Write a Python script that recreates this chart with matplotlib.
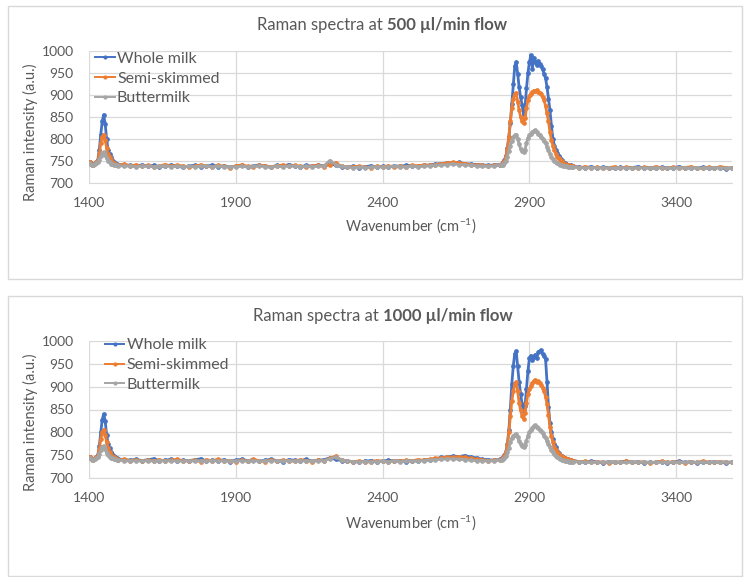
#!/usr/bin/env python3
# -*- coding: UTF-8 -*-

"""
Raman spectra of milk samples at two flow rates
"""

import numpy as np
import matplotlib
matplotlib.use('agg')
from matplotlib import pyplot as plt
from matplotlib.patches import Rectangle

# 波数采样点 (cm-1)
wavenumber = np.r_[1400:1501:5, 1520:2801:20, 2805:3051:5, 3070:3591:20]

series_names = ['Whole milk', 'Semi-skimmed', 'Buttermilk']
series_colors = ['#4472C4', '#ED7D31', '#A5A5A5']
flow_rates = ['500', '1000']

x_ticks = [1400, 1900, 2400, 2900, 3400]
y_ticks = [700, 750, 800, 850, 900, 950, 1000]

# ---- 500 ul/min ----
whole_500 = [
    746, 748, 744, 742, 746, 748, 752, 775, 810, 840, 855, 835, 800, 775, 765, 758, 752, 748, 746, 743, 742,
    741, 740, 739, 741, 738, 740, 737, 739, 741, 738, 736, 739, 740, 737, 738, 741, 737, 739, 736, 738,
    740, 737, 739, 741, 738, 736, 740, 738, 742, 739, 737, 740, 738, 741, 739, 745, 740, 737, 736, 738,
    735, 737, 739, 736, 738, 737, 739, 738, 740, 739, 738, 740, 741, 743, 744, 746, 745, 747, 744, 743,
    742, 741, 740, 741, 742,
    744, 747, 752, 762, 780, 805, 836, 880, 925, 965, 975, 948, 918, 895, 878, 856, 872, 915, 950, 975,
    990, 960, 985, 975, 968, 978, 970, 965, 958, 948, 938, 918, 892, 865, 830, 800, 785, 775, 768, 762,
    757, 752, 748, 746, 744, 742, 741, 740, 739, 738,
    736, 735, 737, 734, 736, 735, 733, 736, 734, 735, 737, 734, 735, 733, 736, 734, 735, 737, 733, 735,
    734, 736, 733, 735, 734, 732, 735,
]
semi_500 = [
    748, 747, 742, 740, 745, 747, 750, 765, 790, 805, 810, 798, 780, 765, 758, 752, 748, 745, 743, 741, 740,
    743, 739, 741, 738, 740, 737, 739, 742, 738, 740, 739, 736, 738, 741, 739, 737, 740, 738, 735, 739,
    741, 738, 736, 740, 739, 737, 739, 741, 738, 740, 738, 736, 739, 740, 737, 742, 746, 738, 736, 737,
    738, 736, 735, 738, 737, 739, 736, 738, 737, 740, 739, 741, 740, 742, 744, 745, 747, 746, 744, 742,
    741, 740, 739, 740, 741,
    743, 746, 750, 760, 778, 805, 840, 870, 892, 902, 905, 885, 865, 850, 840, 836, 848, 870, 888, 898,
    902, 906, 910, 908, 911, 907, 905, 902, 896, 888, 875, 858, 840, 815, 798, 785, 775, 767, 760, 756,
    752, 749, 746, 744, 742, 741, 740, 739, 739, 738,
    735, 737, 734, 736, 733, 735, 737, 734, 736, 735, 733, 736, 734, 737, 735, 733, 736, 734, 735, 737,
    734, 733, 736, 734, 737, 735, 734,
]
butter_500 = [
    745, 744, 740, 741, 743, 745, 747, 752, 762, 768, 770, 764, 756, 750, 747, 744, 743, 742, 741, 740, 739,
    739, 738, 737, 739, 738, 737, 738, 739, 737, 738, 737, 738, 737, 738, 739, 737, 738, 737, 736, 737,
    738, 737, 738, 739, 737, 736, 738, 737, 739, 738, 737, 738, 737, 738, 739, 751, 742, 738, 736, 735,
    736, 735, 736, 737, 736, 737, 738, 736, 737, 738, 737, 738, 739, 740, 741, 742, 743, 742, 741, 740,
    739, 738, 738, 739, 740,
    740, 742, 745, 750, 760, 772, 785, 796, 804, 808, 810, 800, 788, 778, 772, 770, 776, 790, 802, 808,
    812, 815, 818, 820, 815, 812, 808, 805, 800, 796, 790, 782, 774, 766, 760, 755, 750, 747, 745, 743,
    741, 740, 739, 738, 738, 737, 737, 736, 737, 736,
    735, 734, 735, 734, 735, 734, 734, 735, 734, 734, 735, 734, 734, 735, 734, 733, 734, 735, 734, 734,
    735, 734, 734, 735, 734, 734, 734,
]

# ---- 1000 ul/min ----
whole_1000 = [
    745, 747, 742, 741, 744, 747, 750, 770, 800, 828, 840, 825, 795, 775, 765, 758, 752, 748, 745, 743, 742,
    740, 739, 741, 738, 740, 742, 738, 739, 741, 737, 739, 738, 740, 742, 737, 739, 738, 740, 736, 739,
    741, 738, 740, 737, 739, 741, 738, 736, 740, 739, 738, 741, 737, 739, 740, 744, 741, 738, 737, 736,
    735, 737, 738, 736, 737, 739, 737, 738, 736, 738, 737, 739, 740, 742, 745, 746, 748, 747, 749, 746,
    744, 741, 740, 739, 741,
    743, 746, 750, 758, 775, 805, 850, 905, 945, 972, 978, 945, 910, 885, 862, 846, 858, 895, 935, 962,
    968, 958, 965, 970, 962, 975, 978, 980, 972, 968, 960, 910, 855, 820, 800, 785, 775, 767, 760, 755,
    751, 748, 746, 744, 742, 741, 740, 739, 738, 738,
    736, 734, 737, 735, 733, 736, 734, 735, 737, 734, 736, 733, 735, 734, 736, 733, 735, 737, 734, 736,
    733, 735, 734, 736, 734, 733, 735,
]
semi_1000 = [
    747, 746, 741, 740, 744, 746, 749, 762, 785, 800, 806, 795, 778, 765, 757, 751, 747, 745, 743, 741, 740,
    741, 738, 740, 737, 739, 738, 740, 737, 739, 741, 738, 737, 739, 736, 740, 738, 741, 737, 738, 736,
    739, 737, 741, 738, 736, 740, 737, 739, 738, 737, 740, 738, 736, 739, 738, 743, 748, 739, 737, 736,
    737, 735, 736, 738, 737, 736, 738, 737, 739, 738, 740, 739, 741, 743, 744, 746, 745, 747, 745, 743,
    741, 740, 738, 739, 740,
    742, 745, 749, 756, 772, 800, 835, 868, 890, 905, 910, 890, 865, 848, 836, 830, 842, 865, 885, 895,
    902, 908, 912, 915, 910, 912, 908, 904, 898, 890, 878, 862, 838, 812, 792, 778, 768, 762, 757, 753,
    750, 747, 745, 743, 742, 741, 740, 739, 738, 738,
    735, 737, 734, 736, 735, 733, 736, 734, 737, 735, 734, 736, 733, 735, 737, 734, 736, 735, 733, 736,
    734, 737, 735, 734, 736, 735, 734,
]
butter_1000 = [
    744, 743, 739, 740, 742, 744, 746, 752, 762, 768, 770, 763, 755, 750, 747, 744, 743, 742, 741, 740, 739,
    738, 737, 738, 737, 738, 737, 738, 737, 738, 737, 737, 738, 737, 738, 737, 738, 737, 738, 737, 737,
    738, 737, 738, 737, 738, 737, 738, 737, 738, 737, 738, 737, 738, 737, 738, 742, 746, 739, 737, 736,
    735, 736, 735, 736, 737, 736, 737, 736, 737, 738, 737, 738, 739, 740, 741, 742, 742, 741, 740, 739,
    738, 738, 737, 738, 739,
    739, 741, 743, 748, 756, 766, 778, 787, 792, 795, 796, 789, 780, 774, 770, 768, 772, 782, 793, 800,
    806, 810, 814, 815, 812, 810, 806, 802, 798, 793, 788, 782, 775, 768, 762, 756, 752, 748, 745, 743,
    741, 740, 739, 738, 737, 737, 736, 736, 736, 736,
    735, 735, 734, 735, 734, 735, 735, 734, 734, 735, 734, 735, 734, 734, 735, 734, 735, 734, 734, 735,
    734, 735, 734, 735, 734, 735, 735,
]

TEXT_COLOR = '#595959'
GRID_COLOR = '#d9d9d9'
FIG_W, FIG_H = 744, 577

plt.rcParams['font.family'] = ['Lato', 'DejaVu Sans']
plt.rcParams['mathtext.default'] = 'regular'


def px_x(x):
    """像素横坐标 -> 图形坐标"""
    return x / FIG_W


def px_y(y):
    """像素纵坐标(自上而下) -> 图形坐标"""
    return 1 - y / FIG_H


def draw_title(fig, xc, yc, normal, bold):
    """绘制部分加粗的标题, 整体居中"""
    _t1 = fig.text(0, px_y(yc), normal, fontsize=12, color=TEXT_COLOR, va='center')
    _t2 = fig.text(0, px_y(yc), bold, fontsize=12, color=TEXT_COLOR, va='center',
                   fontweight='bold')
    _r = fig.canvas.get_renderer()
    _w1 = _t1.get_window_extent(_r).width
    _w2 = _t2.get_window_extent(_r).width
    _start = xc - (_w1 + _w2) / 2
    _t1.set_x(px_x(_start))
    _t2.set_x(px_x(_start + _w1))


def draw_panel(fig, box, plot_area, title_pos, xlabel_y, ylabel_y, flow, data, legend_anchor):
    """绘制一个图表面板"""
    # 图表外框
    _x0, _y0, _x1, _y1 = box
    fig.patches.append(Rectangle(
        (px_x(_x0), px_y(_y1)), px_x(_x1 - _x0), (_y1 - _y0) / FIG_H,
        transform=fig.transFigure, fill=False, edgecolor=GRID_COLOR, linewidth=1.0
    ))

    _l, _t, _r, _b = plot_area
    _ax = fig.add_axes([px_x(_l), px_y(_b), px_x(_r - _l), (_b - _t) / FIG_H])

    for _name, _color, _vals in zip(series_names, series_colors, data):
        _ax.plot(wavenumber, _vals, color=_color, linewidth=2.0, marker='o',
                 markersize=3.4, markeredgewidth=0, label=_name)

    _ax.set_xlim(1400, 3590)
    _ax.set_ylim(700, 1000)
    _ax.set_xticks(x_ticks)
    _ax.set_yticks(y_ticks)
    _ax.tick_params(length=0, labelsize=10, colors=TEXT_COLOR)
    _ax.tick_params(axis='y', pad=11)
    _ax.tick_params(axis='x', pad=10)
    _ax.grid(True, color=GRID_COLOR, linewidth=0.9)
    _ax.set_axisbelow(True)
    for _side in ['top', 'right', 'left']:
        _ax.spines[_side].set_visible(False)
    _ax.spines['bottom'].set_color(GRID_COLOR)

    _leg = _ax.legend(loc='upper left', bbox_to_anchor=legend_anchor, frameon=False,
                      fontsize=11.5, handlelength=1.2, handletextpad=0.15,
                      labelspacing=0.35, borderpad=0, borderaxespad=0)
    for _line in _leg.get_lines():
        _line.set_linewidth(1.4)
        _line.set_markersize(3.0)
    for _txt in _leg.get_texts():
        _txt.set_color(TEXT_COLOR)

    draw_title(fig, title_pos[0], title_pos[1], 'Raman spectra at ',
               '%s \u00b5l/min flow' % flow)
    fig.text(px_x((_l + _r) / 2), px_y(xlabel_y), 'Wavenumber (cm$^{-1}$)',
             fontsize=10.5, color=TEXT_COLOR, ha='center', va='center')
    fig.text(px_x(30), px_y(ylabel_y), 'Raman intensity (a.u.)', fontsize=10.5,
             color=TEXT_COLOR, ha='center', va='center', rotation=90)
    return _ax


if __name__ == '__main__':
    _fig = plt.figure(figsize=(FIG_W / 100, FIG_H / 100), dpi=100)

    draw_panel(_fig, (8, 6, 742, 279), (89, 51, 732, 183), (382, 25), 226, 132,
               flow_rates[0], [whole_500, semi_500, butter_500], (0.01, 0.995))
    draw_panel(_fig, (8, 296, 742, 576), (89, 341, 732, 478), (383, 316), 523, 422,
               flow_rates[1], [whole_1000, semi_1000, butter_1000], (0.025, 1.02))

    _fig.savefig('out.png', dpi=100)
